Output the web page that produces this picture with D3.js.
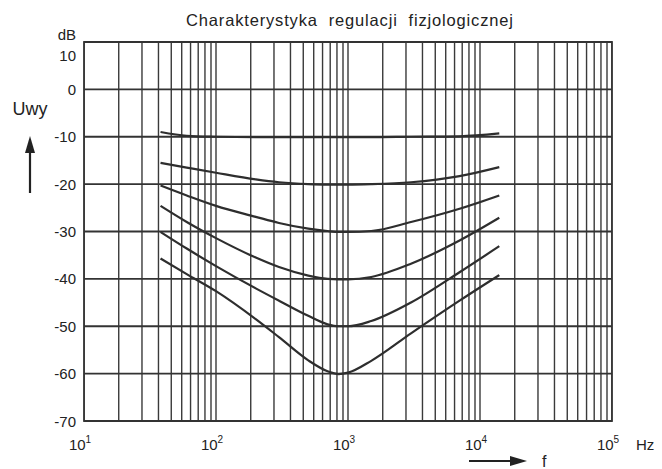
<!DOCTYPE html>
<html>
<head>
<meta charset="utf-8">
<script src="https://cdn.jsdelivr.net/npm/d3@7"></script>
<style>
  body { margin: 0; background: #fff; }
  text { font-family: "Liberation Sans", Arial, sans-serif; fill: #222; }
</style>
</head>
<body>
<svg id="chart" width="662" height="469"></svg>
<script>
// frequency points (Hz) shared by all curves
const freqs = [38, 60, 100, 200, 300, 500, 700, 850, 1000, 1500, 3000, 7000, 14000];

// output level (dB) for each setting of the volume control
const curve1 = [-9.0, -9.8, -10.0, -10.1, -10.1, -10.1, -10.1, -10.1, -10.1, -10.1, -10.0, -9.9, -9.3];
const curve2 = [-15.5, -16.5, -17.6, -19.0, -19.6, -20.0, -20.1, -20.1, -20.1, -20.0, -19.6, -18.3, -16.4];
const curve3 = [-20.3, -22.4, -24.6, -26.9, -28.2, -29.4, -29.9, -30.1, -30.1, -29.9, -28.0, -25.2, -22.4];
const curve4 = [-24.6, -28.0, -31.4, -35.5, -37.5, -39.3, -40.0, -40.1, -40.1, -39.6, -36.8, -31.9, -27.1];
const curve5 = [-30.1, -33.6, -37.3, -42.0, -44.6, -47.8, -49.6, -50.0, -50.0, -48.9, -45.0, -38.6, -33.1];
const curve6 = [-35.7, -39.0, -42.6, -48.5, -52.3, -57.2, -59.5, -60.1, -59.8, -57.3, -51.5, -44.6, -39.2];

const yTicks = [10, 0, -10, -20, -30, -40, -50, -60, -70];
const decades = [1, 2, 3, 4, 5];

const title = "Charakterystyka  regulacji  fizjologicznej";

const margin = {top: 42, left: 84, right: 50, bottom: 48};
const width = 662, height = 469;

const svg = d3.select("#chart");

const x = d3.scaleLog()
    .domain([10, 100000])
    .range([margin.left, width - margin.right]);

const y = d3.scaleLinear()
    .domain([-70, 10])
    .range([height - margin.bottom, margin.top]);

// the printed graph paper sits a few pixels left of the decade marks
const gridShift = -5;

svg.append("defs").append("clipPath")
    .attr("id", "plot")
  .append("rect")
    .attr("x", x(10))
    .attr("y", y(10))
    .attr("width", x(100000) - x(10))
    .attr("height", y(-70) - y(10));

const grid = svg.append("g")
    .attr("clip-path", "url(#plot)")
    .attr("stroke", "#3a3a3a");

// minor vertical lines 2..10 in each decade
let minor = [];
decades.slice(0, 4).forEach(n => d3.range(2, 11).forEach(k => minor.push(k * Math.pow(10, n))));

grid.selectAll(".minor")
    .data(minor)
    .join("line")
    .attr("class", "minor")
    .attr("x1", d => x(d) + gridShift)
    .attr("x2", d => x(d) + gridShift)
    .attr("y1", y(10))
    .attr("y2", y(-70))
    .attr("stroke-width", 1.4);

grid.selectAll(".decade")
    .data(decades)
    .join("line")
    .attr("class", "decade")
    .attr("x1", d => x(Math.pow(10, d)))
    .attr("x2", d => x(Math.pow(10, d)))
    .attr("y1", y(10))
    .attr("y2", y(-70))
    .attr("stroke-width", 1.4);

svg.append("g")
    .attr("stroke", "#333")
  .selectAll("line")
    .data(yTicks)
    .join("line")
    .attr("x1", x(10))
    .attr("x2", x(100000))
    .attr("y1", d => y(d))
    .attr("y2", d => y(d))
    .attr("stroke-width", 1.8);

// frame
svg.append("rect")
    .attr("x", x(10))
    .attr("y", y(10))
    .attr("width", x(100000) - x(10))
    .attr("height", y(-70) - y(10))
    .attr("fill", "none")
    .attr("stroke", "#333")
    .attr("stroke-width", 1.8);

// curves
const line = d3.line()
    .x((d, i) => x(freqs[i]))
    .y(d => y(d))
    .curve(d3.curveMonotoneX);

svg.append("g")
  .selectAll("path")
    .data([curve1, curve2, curve3, curve4, curve5, curve6])
    .join("path")
    .attr("d", line)
    .attr("fill", "none")
    .attr("stroke", "#2e2e2e")
    .attr("stroke-width", 2.2);

// y labels
svg.append("g")
  .selectAll("text")
    .data(yTicks)
    .join("text")
    .attr("x", 76)
    .attr("y", d => d == 10 ? y(d) + 19 : y(d) + 5.5)
    .attr("text-anchor", "end")
    .style("font-size", "15px")
    .text(d => d);

svg.append("text")
    .attr("x", 76)
    .attr("y", 40)
    .attr("text-anchor", "end")
    .style("font-size", "15px")
    .text("dB");

// x labels
const xl = svg.append("g")
  .selectAll("text")
    .data(decades)
    .join("text")
    .attr("x", d => x(Math.pow(10, d)) - 4)
    .attr("y", 450)
    .attr("text-anchor", "middle")
    .style("font-size", "15px");

xl.append("tspan").text("10");
xl.append("tspan")
    .attr("dy", -7)
    .style("font-size", "10px")
    .text(d => d);

svg.append("text")
    .attr("x", 636)
    .attr("y", 450)
    .style("font-size", "15px")
    .text("Hz");

svg.append("text")
    .attr("x", 30)
    .attr("y", 115)
    .attr("text-anchor", "middle")
    .style("font-size", "18px")
    .text("Uwy");

svg.append("text")
    .attr("x", 542)
    .attr("y", 467)
    .style("font-size", "16px")
    .text("f");

svg.append("text")
    .attr("x", 186)
    .attr("y", 26)
    .attr("textLength", 327)
    .attr("lengthAdjust", "spacing")
    .style("font-size", "16.5px")
    .style("white-space", "pre")
    .text(title);

// arrows
svg.append("line")
    .attr("x1", 30).attr("x2", 30)
    .attr("y1", 193).attr("y2", 150)
    .attr("stroke", "#222").attr("stroke-width", 2.2);
svg.append("path")
    .attr("d", "M30,136 L25,153 L35,153 Z")
    .attr("fill", "#222");

svg.append("line")
    .attr("x1", 469).attr("x2", 512)
    .attr("y1", 461).attr("y2", 461)
    .attr("stroke", "#222").attr("stroke-width", 2.2);
svg.append("path")
    .attr("d", "M527,461 L510,456 L510,466 Z")
    .attr("fill", "#222");
</script>
</body>
</html>
